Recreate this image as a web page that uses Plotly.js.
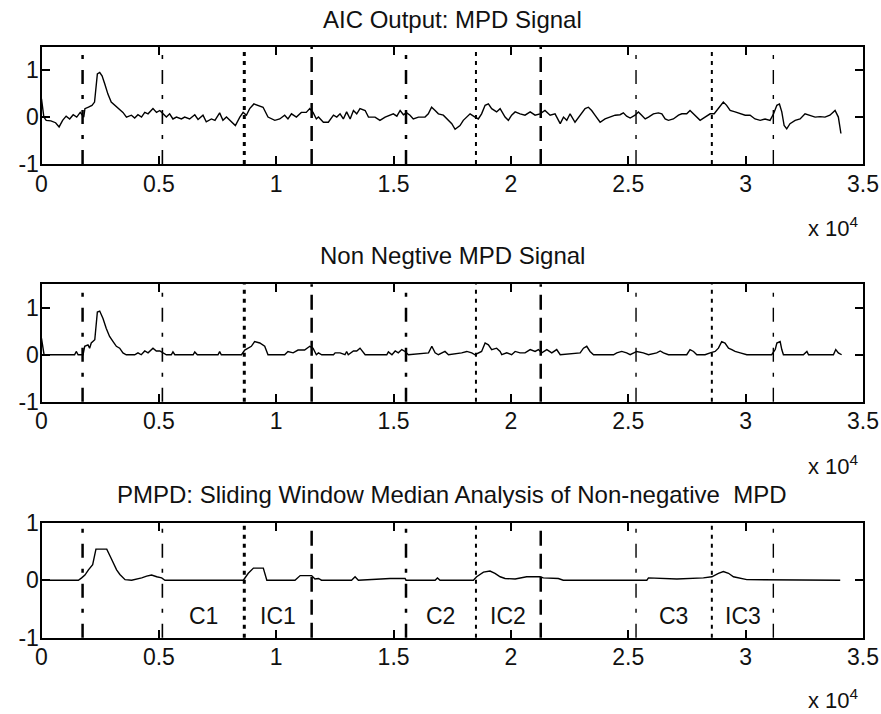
<!DOCTYPE html>
<html>
<head>
<meta charset="utf-8">
<script src="https://cdn.plot.ly/plotly-3.0.1.min.js"></script>
<style>html,body{margin:0;padding:0;background:#fff;}#chart{width:881px;height:714px;}</style>
</head>
<body>
<div id="chart"></div>
<script>
// ---------- data (x in units of 1e4 samples) ----------
const aicX = [0.000,0.010,0.020,0.040,0.060,0.075,0.090,0.105,0.120,0.135,0.150,0.165,0.180,0.185,0.200,0.215,0.226,0.238,0.248,0.258,0.270,0.283,0.297,0.312,0.326,0.347,0.362,0.383,0.397,0.411,0.426,0.440,0.454,0.475,0.490,0.504,0.518,0.532,0.546,0.560,0.575,0.596,0.610,0.631,0.653,0.667,0.688,0.702,0.724,0.739,0.759,0.773,0.788,0.809,0.826,0.845,0.859,0.873,0.887,0.905,0.922,0.944,0.965,0.994,1.015,1.036,1.050,1.065,1.086,1.107,1.128,1.143,1.157,1.171,
1.180,1.201,1.222,1.244,1.258,1.272,1.286,1.300,1.315,1.329,1.343,1.357,1.379,1.393,1.421,1.442,1.464,1.485,1.499,1.514,1.528,1.542,1.556,1.570,1.584,1.606,1.634,1.648,1.662,1.677,1.691,1.712,1.734,1.748,1.762,1.783,1.797,1.812,1.826,1.847,1.861,1.875,1.890,1.904,1.918,1.939,1.954,1.975,1.989,2.003,2.018,2.039,2.060,2.082,2.103,2.124,2.145,2.167,2.188,2.210,2.224,2.238,2.252,2.273,2.295,2.316,2.330,2.344,2.358,
2.380,2.401,2.422,2.444,2.465,2.479,2.493,2.508,2.529,2.543,2.557,2.572,2.586,2.607,2.628,2.643,2.657,2.671,2.692,2.714,2.728,2.749,2.763,2.785,2.806,2.827,2.849,2.866,2.877,2.891,2.905,2.919,2.934,2.955,2.977,2.998,3.019,3.040,3.062,3.083,3.104,3.119,3.133,3.144,3.154,3.164,3.175,3.189,3.211,3.232,3.253,3.275,3.296,3.317,3.338,3.359,3.381,3.395,3.406];
const aicY = [0.39,0.00,-0.07,-0.08,-0.12,-0.21,-0.07,0.02,-0.04,0.05,0.00,0.10,0.00,0.18,0.21,0.25,0.32,0.92,0.95,0.88,0.70,0.49,0.32,0.25,0.18,0.10,0.00,0.04,-0.02,0.05,0.00,0.10,0.07,0.18,0.10,0.14,0.07,0.00,0.07,-0.04,0.00,-0.04,0.00,-0.04,0.05,-0.05,0.04,-0.10,-0.04,-0.07,0.09,-0.07,0.00,-0.10,-0.18,0.00,0.10,0.04,0.18,0.28,0.25,0.21,0.00,-0.07,-0.04,0.04,-0.04,0.07,0.00,0.10,0.10,0.18,0.10,-0.04,
0.00,-0.11,-0.11,0.04,0.00,0.07,-0.04,0.11,-0.04,0.14,0.07,0.18,0.14,0.00,0.00,-0.07,0.00,0.04,0.07,0.02,0.14,0.05,0.09,0.04,-0.04,0.00,0.00,0.07,0.21,0.14,0.07,0.04,-0.07,-0.14,-0.26,-0.18,-0.07,0.00,0.07,0.00,-0.04,0.07,0.25,0.28,0.18,0.11,0.18,0.00,-0.07,0.04,0.11,0.07,0.04,0.11,0.04,0.07,0.14,0.04,0.07,-0.14,0.00,-0.07,0.07,-0.11,0.04,0.18,0.21,0.14,0.04,
-0.11,-0.04,0.00,0.04,0.05,0.09,0.02,-0.02,0.04,0.11,0.04,-0.04,0.00,0.07,0.09,0.07,-0.04,-0.07,-0.04,0.04,0.07,0.07,0.14,0.04,-0.07,0.00,0.07,0.07,0.14,0.21,0.32,0.25,0.14,0.11,0.07,0.04,0.04,-0.04,-0.07,-0.04,-0.07,0.07,0.25,0.28,0.11,-0.18,-0.25,-0.14,-0.07,-0.04,0.07,0.04,0.00,0.01,0.00,0.04,0.14,0.00,-0.35];

const nnX = [0.000,0.011,0.141,0.148,0.156,0.177,0.184,0.198,0.205,0.212,0.227,0.238,0.248,0.262,0.276,0.290,0.305,0.319,0.333,0.347,0.361,0.397,0.411,0.425,0.440,0.454,0.475,0.489,0.504,0.518,0.532,0.553,0.560,0.568,0.646,0.653,0.664,0.752,0.759,0.766,0.852,0.866,0.880,0.894,0.908,0.930,0.951,0.965,1.036,1.050,1.072,1.093,1.121,1.143,1.157,1.171,1.180,
1.194,1.244,1.251,1.272,1.293,1.300,1.307,1.329,1.343,1.357,1.371,1.379,1.471,1.478,1.493,1.507,1.520,1.535,1.549,1.563,1.649,1.663,1.677,1.691,1.719,1.734,1.790,1.812,1.833,1.847,1.875,1.890,1.904,1.918,1.939,1.954,1.961,1.982,2.003,2.018,2.039,2.060,2.082,2.103,2.117,2.131,2.153,2.174,2.195,2.210,2.295,2.309,2.323,2.337,2.352,
2.437,2.451,2.472,2.493,2.508,2.536,2.564,2.586,2.621,2.636,2.650,2.671,2.749,2.763,2.778,2.792,2.827,2.849,2.870,2.884,2.898,2.912,2.927,2.941,2.955,2.977,3.005,3.111,3.126,3.133,3.147,3.154,3.161,3.246,3.261,3.268,3.374,3.384,3.395,3.409];
const nnY = [0.35,0.00,0.00,0.07,0.00,0.00,0.18,0.21,0.14,0.25,0.32,0.91,0.93,0.77,0.56,0.39,0.28,0.18,0.14,0.04,0.00,0.00,0.04,0.00,0.08,0.04,0.14,0.08,0.08,0.04,0.00,0.00,0.06,0.00,0.00,0.06,0.00,0.00,0.07,0.00,0.00,0.10,0.14,0.18,0.28,0.25,0.18,0.00,0.00,0.07,0.04,0.10,0.10,0.18,0.14,0.00,0.04,
0.00,0.00,0.04,0.04,0.00,0.07,0.00,0.08,0.08,0.14,0.04,0.00,0.00,0.06,0.00,0.08,0.04,0.11,0.07,0.00,0.04,0.18,0.04,0.00,0.07,0.00,0.04,0.07,0.04,0.00,0.07,0.25,0.21,0.11,0.14,0.07,0.00,0.04,0.00,0.07,0.04,0.04,0.11,0.07,0.11,0.04,0.11,0.04,0.11,0.00,0.04,0.14,0.18,0.07,0.00,
0.00,0.04,0.07,0.04,0.00,0.07,0.04,0.00,0.04,0.08,0.04,0.00,0.00,0.11,0.07,0.00,0.00,0.04,0.07,0.14,0.28,0.25,0.14,0.11,0.07,0.04,0.00,0.00,0.11,0.25,0.28,0.11,0.00,0.00,0.07,0.00,0.00,0.11,0.04,0.00];

const pmX = [0.000,0.157,0.171,0.185,0.200,0.218,0.232,0.278,0.292,0.306,0.320,0.334,0.356,0.384,0.413,0.427,0.448,0.469,0.491,0.512,0.526,0.860,0.881,0.903,0.945,0.960,1.080,1.102,1.151,1.165,1.180,1.193,1.321,1.336,1.350,1.485,1.549,1.553,1.677,1.687,1.698,
1.840,1.854,1.883,1.911,1.932,1.954,1.975,2.018,2.039,2.067,2.124,2.138,2.202,2.223,2.579,2.586,2.707,2.820,2.856,2.884,2.905,2.927,2.948,2.977,3.005,3.403];
const pmY = [0.00,0.00,0.04,0.09,0.18,0.27,0.54,0.54,0.42,0.30,0.18,0.10,0.01,0.00,0.02,0.04,0.07,0.09,0.06,0.04,0.00,0.00,0.12,0.21,0.21,0.00,0.00,0.08,0.08,0.02,0.03,0.00,0.00,0.06,0.00,0.03,0.03,0.00,0.00,0.04,0.00,
0.00,0.06,0.14,0.16,0.12,0.06,0.03,0.02,0.04,0.06,0.06,0.04,0.03,0.00,0.00,0.04,0.02,0.04,0.06,0.12,0.15,0.12,0.06,0.03,0.01,0.00];

const boundaryX = [0.175, 0.515, 0.864, 1.151, 1.553, 1.851, 2.127, 2.533, 2.856, 3.118];
const boundaryKind = ['dashdot','dashdot','dot','dash','dashdot','dot','dash','dashdot','dot','dashdot'];
const segmentLabels = ['C1','IC1','C2','IC2','C3','IC3'];
const segmentBounds = [[0.515,0.864],[0.864,1.151],[1.553,1.851],[1.851,2.127],[2.533,2.856],[2.856,3.118]];
const xTickVals = [0,0.5,1,1.5,2,2.5,3,3.5];
const xTickText = ['0','0.5','1','1.5','2','2.5','3','3.5'];
const yTickVals = [-1,0,1];
const yTickText = ['-1','0','1'];
const titles = ['AIC Output: MPD Signal','Non Negtive MPD Signal','PMPD: Sliding Window Median Analysis of Non-negative  MPD'];

// ---------- styling ----------
const W = 881, H = 714;
const FONT = 'Liberation Sans, Arial, sans-serif';
const px = v => v / W;
const py = v => 1 - v / H;
const xDom = [px(41.5), px(863)];
const panels = [ {top:46.7, bot:164, yr:[-1,1.5]}, {top:284.3, bot:401.7, yr:[-1,1.5]}, {top:522.7, bot:637.7, yr:[-1,1]} ];
const titleY = [19, 255, 494];
const expY = [227, 465, 699];
const dashStyle = {
  dashdot: '14px,11px,4px,11px',
  dot: '4px,5px',
  dash: '15px,8px'
};
const boundaryWidth = [2.5,1.6,3,2.5,2.5,2,2.5,1.4,2,1.4];

function xAxis(i){
  return {domain:xDom, anchor:'y'+(i===0?'':i+1), range:[0,3.5], tickmode:'array', tickvals:xTickVals, ticktext:xTickText,
    ticks:'inside', ticklen:8, tickwidth:2, tickcolor:'#000', showline:true, linewidth:2, linecolor:'#000', mirror:'ticks',
    showgrid:false, zeroline:false, fixedrange:true, ticklabelstandoff:-2,
    tickfont:{family:FONT, size:23, color:'#111'}};
}
function yAxis(i){
  const p = panels[i];
  return {domain:[py(p.bot), py(p.top)], anchor:'x'+(i===0?'':i+1), range:p.yr, tickmode:'array', tickvals:yTickVals, ticktext:yTickText,
    ticks:'inside', ticklen:8, tickwidth:2, tickcolor:'#000', showline:true, linewidth:2, linecolor:'#000', mirror:'ticks',
    showgrid:false, zeroline:false, fixedrange:true, ticklabelstandoff:-4,
    tickfont:{family:FONT, size:23, color:'#111'}};
}

const series = [[aicX,aicY],[nnX,nnY],[pmX,pmY]];
const traces = series.map((s,i)=>({x:s[0], y:s[1], type:'scatter', mode:'lines',
  xaxis:'x'+(i===0?'':i+1), yaxis:'y'+(i===0?'':i+1),
  line:{color:'#000', width:1.4}, hoverinfo:'skip', showlegend:false}));

const shapes = [];
for (let i=0;i<3;i++){
  const sfx = i===0?'':String(i+1);
  boundaryX.forEach((b,k)=>{
    shapes.push({type:'line', xref:'x'+sfx, yref:'y'+sfx+' domain', x0:b, x1:b, y0:0, y1:1,
      line:{color:'#000', width:boundaryWidth[k], dash:dashStyle[boundaryKind[k]]}});
  });
}

const annotations = [];
titles.forEach((t,i)=>{
  annotations.push({text:t, xref:'paper', yref:'paper', x:(xDom[0]+xDom[1])/2, y:py(titleY[i]), xanchor:'center', yanchor:'middle',
    showarrow:false, font:{family:FONT, size:24, color:'#111'}});
  annotations.push({text:'x 10<sup>4</sup>', xref:'paper', yref:'paper', x:px(833), y:py(expY[i]), xanchor:'center', yanchor:'middle',
    showarrow:false, font:{family:FONT, size:22, color:'#111'}});
});
segmentLabels.forEach((lab,k)=>{
  const mid = (segmentBounds[k][0]+segmentBounds[k][1])/2;
  annotations.push({text:lab, xref:'x3', yref:'y3', x:mid, y:-0.62, xanchor:'center', yanchor:'middle',
    showarrow:false, font:{family:FONT, size:23, color:'#111'}});
});

const layout = {width:W, height:H, margin:{l:0,r:0,t:0,b:0}, paper_bgcolor:'#fff', plot_bgcolor:'#fff',
  showlegend:false, shapes:shapes, annotations:annotations,
  xaxis:xAxis(0), yaxis:yAxis(0), xaxis2:xAxis(1), yaxis2:yAxis(1), xaxis3:xAxis(2), yaxis3:yAxis(2)};

Plotly.newPlot('chart', traces, layout, {displayModeBar:false, staticPlot:true});
</script>
</body>
</html>
